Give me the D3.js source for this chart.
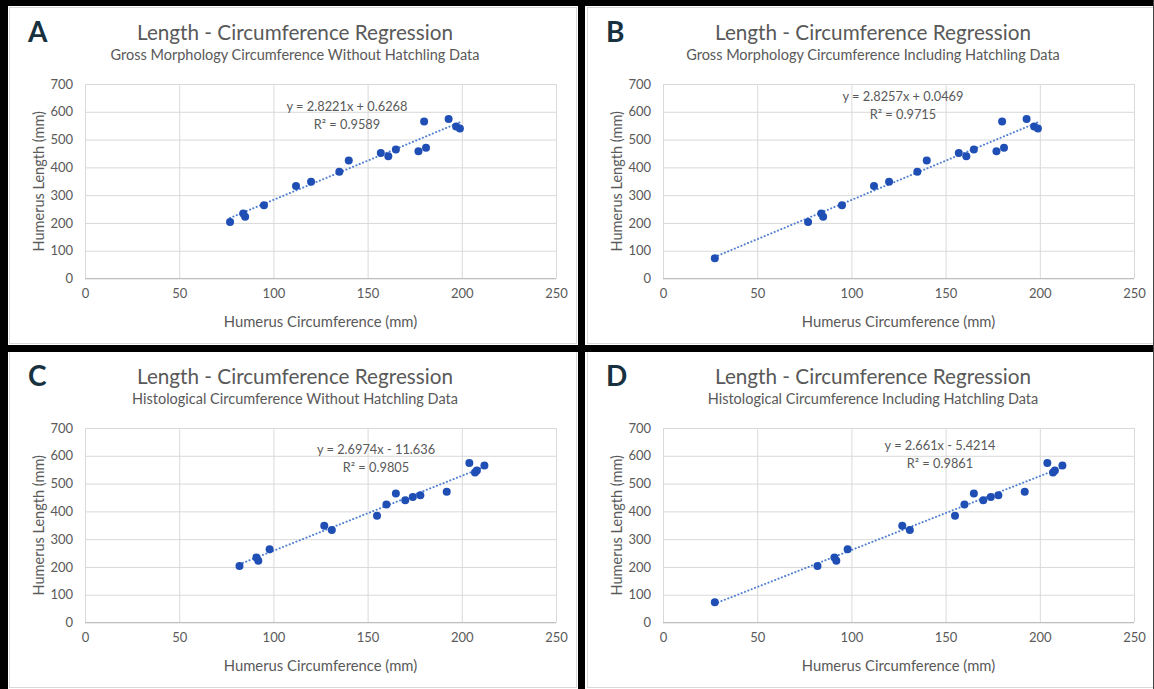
<!DOCTYPE html>
<html lang="en">
<head>
    <meta charset="UTF-8">
    <script src="https://d3js.org/d3.v7.min.js"></script>
    <style>
        body { margin: 0; background: #fff; }
        text { font-family: Lato, "Open Sans", sans-serif; }
    </style>
</head>
<body>
    <svg id="chart" width="1154" height="689"></svg>
    <script>
        // humerus measurements (mm), same specimen order in every array
        const humerusLength = [203, 234, 222, 264, 333, 348, 384, 425, 452, 440, 464, 565, 458, 471, 574, 547, 540];
        const grossCirc = [77, 84, 85, 95, 112, 120, 135, 140, 157, 161, 165, 180, 177, 181, 193, 197, 199];
        const histoCirc = [82, 91, 92, 98, 131, 127, 155, 160, 174, 170, 165, 212, 178, 192, 204, 208, 207];
        const hatchlingCirc = [27.5];
        const hatchlingLength = [73];

        const panelLetters = ["A", "B", "C", "D"];
        const subtitles = [
            "Gross Morphology Circumference Without Hatchling Data",
            "Gross Morphology Circumference Including Hatchling Data",
            "Histological Circumference Without Hatchling Data",
            "Histological Circumference Including Hatchling Data"
        ];
        const slopes = [2.8221, 2.8257, 2.6974, 2.661];
        const intercepts = [0.6268, 0.0469, -11.636, -5.4214];
        const equations = ["y = 2.8221x + 0.6268", "y = 2.8257x + 0.0469", "y = 2.6974x - 11.636", "y = 2.661x - 5.4214"];
        const rSquared = ["R² = 0.9589", "R² = 0.9715", "R² = 0.9805", "R² = 0.9861"];
        const xTicks = [0, 50, 100, 150, 200, 250];
        const yTicks = [0, 100, 200, 300, 400, 500, 600, 700];

        function points(circ, withHatchling) {
            let pts = circ.map((c, i) => ({ x: c, y: humerusLength[i] }));
            if (withHatchling) pts = [{ x: hatchlingCirc[0], y: hatchlingLength[0] }].concat(pts);
            return pts;
        }

        const panels = [
            { data: points(grossCirc, false), dx: 0, dy: 0, eq: [347, 111] },
            { data: points(grossCirc, true), dx: 578, dy: 0, eq: [325, 101] },
            { data: points(histoCirc, false), dx: 0, dy: 344, eq: [376, 110] },
            { data: points(histoCirc, true), dx: 578, dy: 344, eq: [362, 106] }
        ];

        const svg = d3.select("#chart");
        const grey = "#595959";

        const x = d3.scaleLinear().domain([0, 250]).range([85, 556]);
        const y = d3.scaleLinear().domain([0, 700]).range([278.5, 84]);

        panels.forEach((p, i) => {
            const g = svg.append("g").attr("transform", `translate(${p.dx},${p.dy})`);

            g.append("rect")
                .attr("x", 9.5).attr("y", 7.5)
                .attr("width", 567).attr("height", 336)
                .attr("fill", "#fff").attr("stroke", "#d9d9d9");

            // grid
            g.append("g")
                .attr("transform", `translate(0,${y(0)})`)
                .call(d3.axisBottom(x).tickValues(xTicks).tickSize(-(y(0) - y(700))).tickPadding(10))
                .call(a => a.select(".domain").remove())
                .call(a => a.selectAll("line").attr("stroke", "#d9d9d9"))
                .call(a => a.selectAll("text").attr("fill", grey).style("font-size", "13px"));

            g.append("g")
                .attr("transform", `translate(${x(0)},0)`)
                .call(d3.axisLeft(y).tickValues(yTicks).tickSize(-(x(250) - x(0))).tickPadding(12))
                .call(a => a.select(".domain").remove())
                .call(a => a.selectAll("line").attr("stroke", "#d9d9d9"))
                .call(a => a.selectAll("text").attr("fill", grey).style("font-size", "13px"));

            g.append("line")
                .attr("x1", x(0)).attr("x2", x(250))
                .attr("y1", y(0)).attr("y2", y(0))
                .attr("stroke", "#bfbfbf");

            // trendline
            const ext = d3.extent(p.data, d => d.x);
            g.append("line")
                .attr("x1", x(ext[0])).attr("y1", y(slopes[i] * ext[0] + intercepts[i]))
                .attr("x2", x(ext[1])).attr("y2", y(slopes[i] * ext[1] + intercepts[i]))
                .attr("stroke", "#4f7fd0")
                .attr("stroke-width", 2)
                .attr("stroke-linecap", "round")
                .attr("stroke-dasharray", "0.1,3.5");

            g.selectAll(".dot")
                .data(p.data)
                .enter().append("circle")
                .attr("class", "dot")
                .attr("cx", d => x(d.x))
                .attr("cy", d => y(d.y))
                .attr("r", 4)
                .attr("fill", "#1f4fb4");

            // titles
            g.append("text")
                .attr("x", 28).attr("y", 42)
                .style("font-size", "28px").style("font-weight", "bold")
                .attr("fill", "#17313f")
                .text(panelLetters[i]);

            g.append("text")
                .attr("x", 295).attr("y", 40)
                .attr("text-anchor", "middle")
                .style("font-size", "20.7px")
                .attr("fill", grey)
                .text("Length - Circumference Regression");

            g.append("text")
                .attr("x", 295).attr("y", 60)
                .attr("text-anchor", "middle")
                .style("font-size", "14.5px")
                .attr("fill", grey)
                .text(subtitles[i]);

            g.append("text")
                .attr("x", p.eq[0]).attr("y", p.eq[1])
                .attr("text-anchor", "middle")
                .style("font-size", "12.8px")
                .attr("fill", grey)
                .text(equations[i]);

            g.append("text")
                .attr("x", p.eq[0]).attr("y", p.eq[1] + 18)
                .attr("text-anchor", "middle")
                .style("font-size", "12.8px")
                .attr("fill", grey)
                .text(rSquared[i]);

            // axis titles
            g.append("text")
                .attr("x", (x(0) + x(250)) / 2).attr("y", 327)
                .attr("text-anchor", "middle")
                .style("font-size", "14.8px")
                .attr("fill", grey)
                .text("Humerus Circumference (mm)");

            g.append("text")
                .attr("transform", `translate(44,${(y(0) + y(700)) / 2}) rotate(-90)`)
                .attr("text-anchor", "middle")
                .style("font-size", "14.5px")
                .attr("fill", grey)
                .text("Humerus Length (mm)");
        });

        // black frame
        const frame = [[0, 0, 1154, 6], [0, 0, 8, 689], [578, 0, 7, 689], [0, 345, 1154, 7], [1153, 0, 1, 689]];
        svg.selectAll(".frame")
            .data(frame)
            .enter().append("rect")
            .attr("class", "frame")
            .attr("x", d => d[0]).attr("y", d => d[1])
            .attr("width", d => d[2]).attr("height", d => d[3])
            .attr("fill", d => d[2] === 1 ? "#444" : "#000");
    </script>
</body>
</html>
